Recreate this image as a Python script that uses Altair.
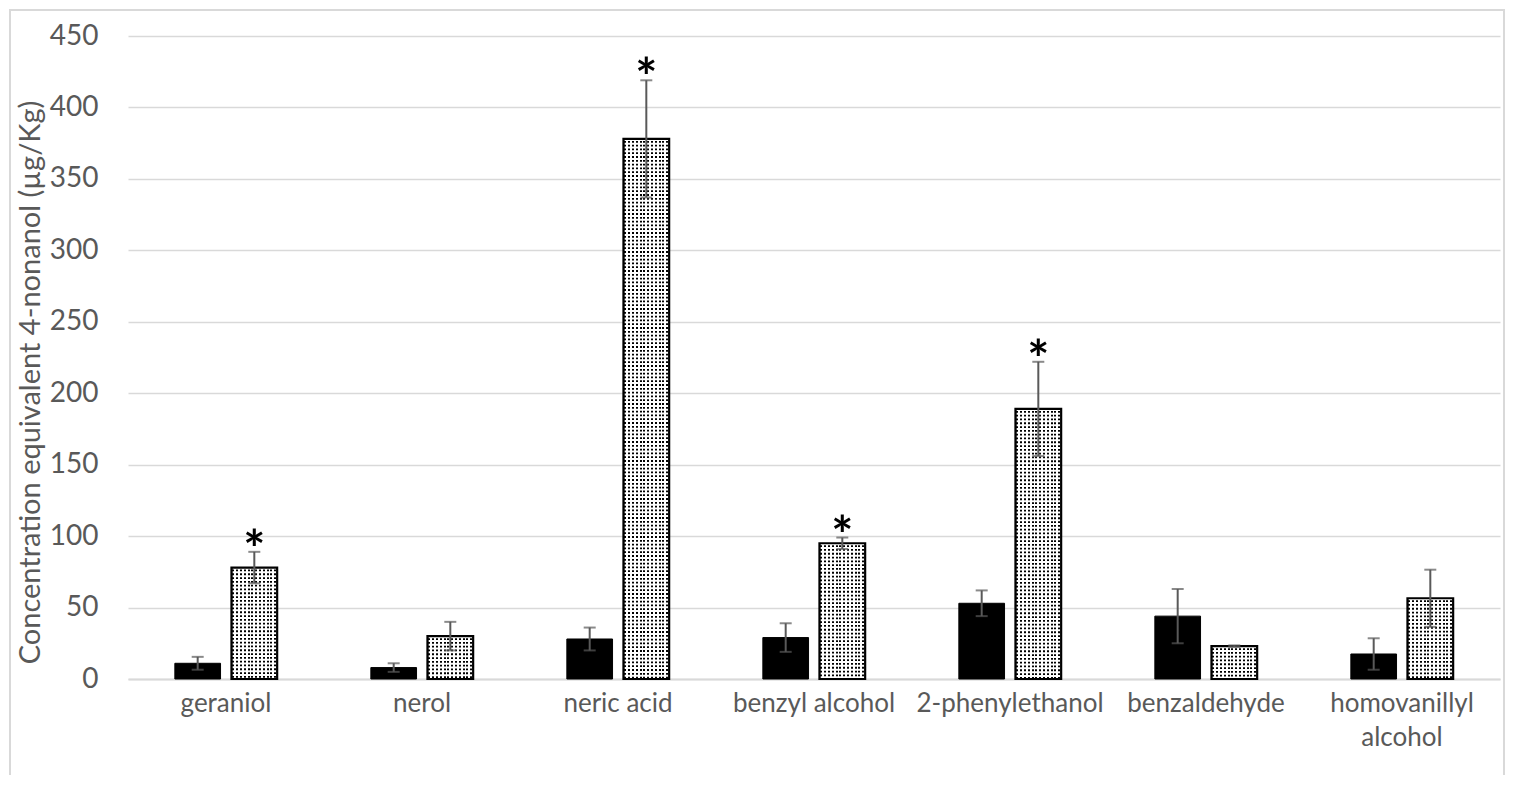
import altair as alt
import pandas as pd

categories = ["geraniol", "nerol", "neric acid", "benzyl alcohol",
              "2-phenylethanol", "benzaldehyde", "homovanillyl alcohol"]
black_vals = [11, 8, 28, 29, 53, 44, 17.5]
black_err = [4.5, 3, 8, 10, 9, 19, 11]
dotted_vals = [78, 30, 378, 95, 189, 23, 56.5]
dotted_err = [11, 10, 41, 4, 33, 0.5, 20]
significant = [True, False, True, True, True, False, False]
y_ticks = [0, 50, 100, 150, 200, 250, 300, 350, 400, 450]

rows = []
for i, c in enumerate(categories):
    rows.append(dict(cat=c, s="a", v=black_vals[i], lo=black_vals[i] - black_err[i],
                     hi=black_vals[i] + black_err[i], sig=False))
    rows.append(dict(cat=c, s="b", v=dotted_vals[i], lo=dotted_vals[i] - dotted_err[i],
                     hi=dotted_vals[i] + dotted_err[i], sig=significant[i]))
df = pd.DataFrame(rows)

FONT = "Lato"
GRAY = "#595959"
PLOT_W, PLOT_H = 1372, 643

# vertical stripe gradient (dots are formed with a dashed white overlay)
n = 12
stops = [alt.GradientStop(offset=0, color="white")]
for i in range(n):
    a = (i + 0.25) / n
    b = (i + 0.75) / n
    stops += [alt.GradientStop(offset=a, color="white"),
              alt.GradientStop(offset=a, color="black"),
              alt.GradientStop(offset=b, color="black"),
              alt.GradientStop(offset=b, color="white")]
stops.append(alt.GradientStop(offset=1, color="white"))
grad = alt.LinearGradient(gradient="linear", stops=stops, x1=0, x2=1, y1=0, y2=0)

label_expr = "datum.label == 'homovanillyl alcohol' ? ['homovanillyl', 'alcohol'] : datum.label"

x = alt.X("cat:N", sort=categories,
          scale=alt.Scale(paddingInner=0.478, paddingOuter=0.239),
          axis=alt.Axis(title=None, labelAngle=0, labelFontSize=26, labelColor=GRAY,
                        labelFont=FONT, labelPadding=11, ticks=False, domainColor="#d9d9d9",
                        domainWidth=2, labelLimit=400, labelExpr=label_expr,
                        labelLineHeight=34, grid=False))
xo = alt.XOffset("s:N", scale=alt.Scale(domain=["a", "b"], paddingInner=0.193, paddingOuter=0))
y = alt.Y("v:Q", scale=alt.Scale(domain=[0, 450], nice=False),
          axis=alt.Axis(values=y_ticks, title="Concentration equivalent 4-nonanol (µg/Kg)",
                        titleFontSize=29, titleFont=FONT, titleColor=GRAY, titleFontWeight="normal",
                        titleX=-98, titleY=346, titleAlign="center", titleBaseline="middle",
                        labelFontSize=28, labelFont=FONT, labelColor=GRAY, labelPadding=30,
                        ticks=False, domain=False, gridColor="#d9d9d9", gridWidth=1.3))

base = alt.Chart(df)

black_bars = base.transform_filter("datum.s == 'a'").mark_bar(
    color="black", stroke="black", strokeWidth=1).encode(x=x, xOffset=xo, y=y)

dot_bars = base.transform_filter("datum.s == 'b'").mark_bar(
    fill=grad).encode(x=x, xOffset=xo, y=y)

dot_mask = base.transform_filter("datum.s == 'b'").mark_rule(
    color="white", strokeWidth=44, strokeDash=[2, 1.8], strokeCap="butt").encode(
    x=x, xOffset=xo, y="v:Q", y2=alt.datum(0))

dot_outline = base.transform_filter("datum.s == 'b'").mark_bar(
    fillOpacity=0, stroke="black", strokeWidth=2.2).encode(x=x, xOffset=xo, y=y)

err_rule = base.mark_rule(color=GRAY, strokeWidth=2).encode(
    x=x, xOffset=xo, y="lo:Q", y2="hi:Q")
cap_hi = base.mark_tick(color=GRAY, size=12, thickness=2, orient="horizontal").encode(
    x=x, xOffset=xo, y="hi:Q")
cap_lo = base.mark_tick(color=GRAY, size=12, thickness=2, orient="horizontal").encode(
    x=x, xOffset=xo, y="lo:Q")

stars = base.transform_filter("datum.sig").mark_text(
    text="*", fontSize=52, font=FONT, fontWeight="bold", color="black",
    baseline="alphabetic", dy=16).encode(x=x, xOffset=xo, y="hi:Q")

frame = alt.Chart(pd.DataFrame({"k": [0]})).mark_rect(
    fillOpacity=0, stroke="#d9d9d9", strokeWidth=2).encode(
    x=alt.value(-118), x2=alt.value(PLOT_W + 4), y=alt.value(-26), y2=alt.value(PLOT_H + 200))

chart = alt.layer(frame, black_bars, dot_bars, dot_mask, dot_outline,
                  err_rule, cap_hi, cap_lo, stars).properties(
    width=PLOT_W, height=PLOT_H,
    autosize=alt.AutoSizeParams(type="none"),
    padding={"left": 120, "top": 28, "right": 6, "bottom": 96},
).configure_view(stroke=None).configure_axis(labelFont=FONT)

chart.save("out.html", embed_options={"renderer": "svg", "actions": False})
